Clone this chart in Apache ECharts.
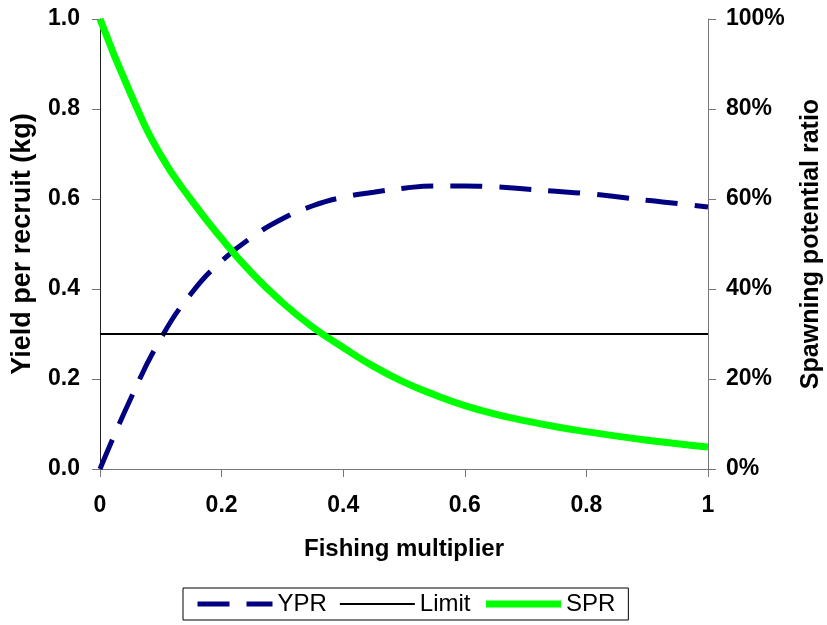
<!DOCTYPE html>
<html>
<head>
<meta charset="utf-8">
<script src="https://cdn.jsdelivr.net/npm/echarts@6/dist/echarts.min.js"></script>
<style>
html,body{margin:0;padding:0;background:#fff;}
#chart{width:827px;height:625px;}
</style>
</head>
<body>
<div id="chart"></div>
<script>
// Fishing multiplier (x)
var fishingMultiplier = [0,0.05,0.1,0.15,0.2,0.25,0.3,0.35,0.4,0.45,0.5,0.55,0.6,0.65,0.7,0.75,0.8,0.85,0.9,0.95,1];
// Yield per recruit (kg)
var ypr = [0,0.155,0.29,0.39,0.462,0.515,0.556,0.585,0.604,0.615,0.624,0.629,0.629,0.627,0.622,0.617,0.612,0.605,0.597,0.590,0.582];
// Spawning potential ratio (fraction)
var spr = [1.0,0.835,0.697,0.598,0.512,0.435,0.370,0.315,0.270,0.228,0.193,0.165,0.141,0.122,0.107,0.094,0.083,0.073,0.064,0.056,0.049];
// Limit reference line
var limitX = [0, 1];
var limitY = [0.3, 0.3];

var seriesNames = ['YPR', 'Limit', 'SPR'];
var xAxisTitle = 'Fishing multiplier';
var leftAxisTitle = 'Yield per recruit (kg)';
var rightAxisTitle = 'Spawning potential ratio';

function pairs(xs, ys) { return xs.map(function (x, i) { return [x, ys[i]]; }); }

var FONT = '"Liberation Sans", Arial, sans-serif';
var chart = echarts.init(document.getElementById('chart'), null, {renderer: 'canvas'});
chart.setOption({
  animation: false,
  backgroundColor: '#fff',
  grid: {left: 100, right: 119, top: 19, bottom: 156, containLabel: false, outerBoundsMode: 'none'},
  legend: {
    left: 183, top: 588,
    data: seriesNames,
    itemWidth: 75, itemHeight: 14, itemGap: 12,
    padding: [4, 13, 4, 12],
    borderColor: '#000', borderWidth: 1,
    itemStyle: {opacity: 0},
    lineStyle: {width: 'inherit', type: 'inherit'},
    textStyle: {fontFamily: FONT, fontSize: 24, color: '#000'}
  },
  xAxis: {
    type: 'value', min: 0, max: 1, interval: 0.2,
    name: xAxisTitle, nameLocation: 'middle', nameGap: 68,
    nameTextStyle: {fontFamily: FONT, fontSize: 24, fontWeight: 'bold', color: '#000'},
    axisLine: {show: true, lineStyle: {color: '#777', width: 1}},
    axisTick: {show: true, length: 8, lineStyle: {color: '#777'}},
    axisLabel: {fontFamily: FONT, fontSize: 23, fontWeight: 'bold', color: '#000', margin: 25},
    splitLine: {show: false}
  },
  yAxis: [{
    type: 'value', min: 0, max: 1, interval: 0.2, position: 'left',
    name: leftAxisTitle, nameLocation: 'middle', nameGap: 64,
    nameTextStyle: {fontFamily: FONT, fontSize: 27, fontWeight: 'bold', color: '#000'},
    axisLine: {show: true, lineStyle: {color: '#222', width: 1}},
    axisTick: {show: true, length: 8, lineStyle: {color: '#777'}},
    axisLabel: {fontFamily: FONT, fontSize: 23, fontWeight: 'bold', color: '#000', margin: 20,
      formatter: function (v) { return v.toFixed(1); }},
    splitLine: {show: false}
  }, {
    type: 'value', min: 0, max: 1, interval: 0.2, position: 'right',
    name: rightAxisTitle, nameLocation: 'middle', nameGap: 91,
    nameTextStyle: {fontFamily: FONT, fontSize: 25, fontWeight: 'bold', color: '#000'},
    axisLine: {show: true, lineStyle: {color: '#777', width: 1}},
    axisTick: {show: true, length: 8, lineStyle: {color: '#777'}},
    axisLabel: {fontFamily: FONT, fontSize: 23, fontWeight: 'bold', color: '#000', margin: 18,
      formatter: function (v) { return Math.round(v * 100) + '%'; }},
    splitLine: {show: false}
  }],
  series: [{
    name: seriesNames[0], type: 'line', yAxisIndex: 0, symbol: 'none', smooth: true,
    data: pairs(fishingMultiplier, ypr),
    lineStyle: {color: '#000080', width: 5, type: [32, 17]},
    itemStyle: {color: '#000080'}
  }, {
    name: seriesNames[1], type: 'line', yAxisIndex: 0, symbol: 'none',
    data: pairs(limitX, limitY),
    lineStyle: {color: '#000', width: 2},
    itemStyle: {color: '#000'}
  }, {
    name: seriesNames[2], type: 'line', yAxisIndex: 1, symbol: 'none', smooth: true,
    data: pairs(fishingMultiplier, spr),
    lineStyle: {color: '#00ff00', width: 7},
    itemStyle: {color: '#00ff00'}
  }]
});
</script>
</body>
</html>
